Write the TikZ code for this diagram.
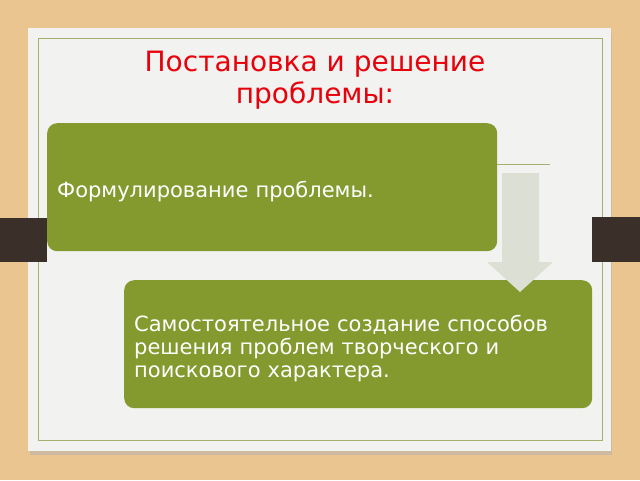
\documentclass[tikz,border=0pt]{standalone}
\usepackage{fontspec}
\setmainfont{DejaVu Sans}
\usetikzlibrary{positioning}
\definecolor{wood}{HTML}{EAC590}
\definecolor{paper}{HTML}{F2F2F1}
\definecolor{olivebox}{HTML}{849A2E}
\definecolor{frameline}{HTML}{A3B26E}
\definecolor{pale}{HTML}{DCE0D4}
\definecolor{tab}{HTML}{3B3029}
\definecolor{titlered}{HTML}{E8000A}

\begin{document}
\begin{tikzpicture}[x=1pt, y=-1pt,
  stage/.style={fill=olivebox, rounded corners=10pt, text=white, anchor=north west,
                font=\fontsize{21}{23}\selectfont, align=left, inner xsep=10pt,
                minimum height=128pt, execute at begin node=\rule{0pt}{24pt}}]
\useasboundingbox (0,0) rectangle (640,480);
\fill[wood] (0,0) rectangle (640,480);
\fill[black!30, opacity=.5] (30,33) rectangle (612,455);
\fill[paper] (28,28) rectangle (611,451);
\draw[frameline, line width=1pt] (38.5,38.5) rectangle (602.5,440.5);

\fill[tab] (0,218) rectangle (47,262);
\fill[tab] (592,217) rectangle (640,262);

\node[text=titlered, font=\fontsize{28}{32}\selectfont, align=center] (title) at (315,80)
  {Постановка и решение\\проблемы:};

\node[stage, text width=430pt] (form) at (47,123) {Формулирование проблемы.};
\node[stage, text width=448pt] (create) at (124,280)
  {Самостоятельное создание способов решения проблем творческого и поискового характера.};

\coordinate (lineend) at (550,164);
\draw[frameline, line width=1pt] (form.east |- lineend) -- (lineend);

\coordinate (arrtop) at (520,173);
\fill[pale] ([xshift=-18]arrtop) -- ([xshift=19]arrtop) -- ++(0,89) -- ++(14,0)
  -- ++(-33,30) -- ++(-33,-30) -- ++(15,0) -- cycle;
\end{tikzpicture}
\end{document}
